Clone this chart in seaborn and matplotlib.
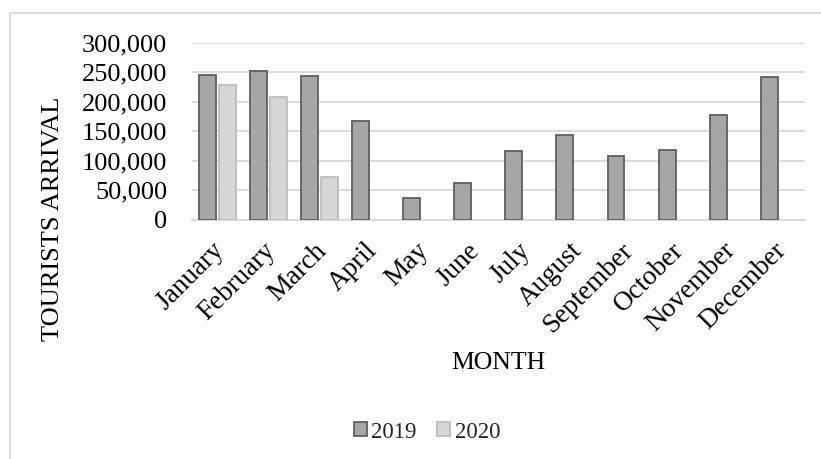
import numpy as np
import pandas as pd
import matplotlib
matplotlib.use("Agg")
import matplotlib.pyplot as plt
from matplotlib.patches import Rectangle
from matplotlib.ticker import FuncFormatter
from matplotlib.transforms import ScaledTranslation
import seaborn as sns

months = ["January", "February", "March", "April", "May", "June", "July",
          "August", "September", "October", "November", "December"]
arrivals_2019 = [245000, 252500, 244500, 167000, 38000, 63000, 116000,
                 143500, 108500, 119000, 177500, 242000]
arrivals_2020 = [229000, 207500, 72000] + [np.nan] * 9
years = ["2019", "2020"]

df = pd.DataFrame({
    "Month": months * 2,
    "Arrivals": arrivals_2019 + arrivals_2020,
    "Year": [years[0]] * 12 + [years[1]] * 12,
})

sns.set_theme(style="white")
plt.rcParams["font.family"] = ["Liberation Serif", "DejaVu Serif"]

fig = plt.figure(figsize=(8.21, 4.59), dpi=100)
W, H = 821, 459
ax = fig.add_axes([192 / W, 1 - 220 / H, (805 - 192) / W, (220 - 42.7) / H])

# chart area border (cropped at right and bottom in the reference)
fig.patches.append(Rectangle((10 / W, -0.1), 1.2, 1 - 13 / H + 0.1,
                             transform=fig.transFigure, fill=False,
                             edgecolor="#d9d9d9", linewidth=1.2, zorder=0))

fills = {"2019": "#a6a6a6", "2020": "#d6d6d6"}
edges = {"2019": "#5f5f5f", "2020": "#bdbdbd"}

sns.barplot(data=df, x="Month", y="Arrivals", hue="Year", hue_order=years,
            palette=fills, order=months, width=0.8, gap=0.17,
            linewidth=1.3, saturation=1, legend=False, ax=ax, zorder=3)

for cont, yr in zip(ax.containers, years):
    for p in cont:
        p.set_edgecolor(edges[yr])

ax.set_ylim(0, 300000)
ax.set_xlim(-0.5, 11.5)
ax.set_yticks(np.arange(0, 300001, 50000))
ax.yaxis.set_major_formatter(FuncFormatter(lambda v, _: f"{int(v):,}"))
ax.grid(axis="y", color="#d9d9d9", linewidth=1.3, zorder=0)
ax.set_axisbelow(True)
for side in ["top", "right", "left"]:
    ax.spines[side].set_visible(False)
ax.spines["bottom"].set_color("#d9d9d9")
ax.spines["bottom"].set_linewidth(1.3)

ax.tick_params(axis="y", length=0, pad=18, labelsize=19, labelcolor="black")
ax.tick_params(axis="x", length=0, pad=13, labelsize=19.5, labelcolor="black")
shift = ScaledTranslation(-6 / 100, 0, fig.dpi_scale_trans)
for lbl in ax.get_xticklabels():
    lbl.set_rotation(45)
    lbl.set_ha("right")
    lbl.set_rotation_mode("anchor")
    lbl.set_transform(lbl.get_transform() + shift)

ax.set_xlabel("MONTH", fontsize=18.5, color="black")
ax.xaxis.set_label_coords(0.5, (220 - 352) / 177.3)
ax.set_ylabel("TOURISTS ARRIVAL", fontsize=19, color="black")
ax.yaxis.set_label_coords((64 - 192) / 613, 0.005)

handles = [ax.containers[0][0], ax.containers[1][0]]
leg = fig.legend(handles, years, loc="center", bbox_to_anchor=(427 / W, 1 - 432 / H),
                 ncol=2, frameon=False, fontsize=16.5, handlelength=0.55,
                 handleheight=0.55, handletextpad=0.2, columnspacing=0.9)

fig.savefig("out.png", dpi=100)
